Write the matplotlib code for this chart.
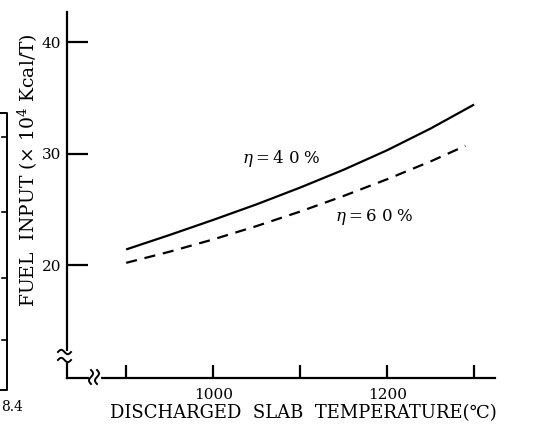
import numpy as np
import matplotlib
matplotlib.use("Agg")
import matplotlib.pyplot as plt
from matplotlib.lines import Line2D

# ---- data ----
temp_40 = [900, 950, 1000, 1050, 1100, 1150, 1200, 1250, 1300]
fuel_40 = [21.4, 22.7, 24.05, 25.45, 26.95, 28.55, 30.3, 32.25, 34.4]
temp_60 = [900, 950, 1000, 1050, 1100, 1150, 1200, 1250, 1290]
fuel_60 = [20.2, 21.2, 22.3, 23.5, 24.8, 26.2, 27.7, 29.3, 30.7]
x_ticks = [900, 1000, 1100, 1200, 1300]
x_ticklabels = ["", "1000", "", "1200", ""]
y_ticks = [20, 30, 40]
y_ticklabels = ["20", "30", "40"]
label_40 = r"$\eta = $4 0 %"
label_60 = r"$\eta = $6 0 %"
xlabel = "DISCHARGED  SLAB  TEMPERATURE(\u2103)"
ylabel = "FUEL  INPUT (\u00d7 10$^4$ Kcal\u2215T)"

W, H = 537, 428
plt.rcParams['font.family'] = ['DejaVu Serif', 'DejaVu Sans']
plt.rcParams['mathtext.fontset'] = 'dejavuserif'
fig = plt.figure(figsize=(W / 100, H / 100), dpi=100)

def fx(px):
    return px / W

def fy(py):
    return 1 - py / H

ax = fig.add_axes([fx(67), fy(378), fx(495) - fx(67), fy(12) - fy(378)])
ax.set_xlim(832, 1324)
ax.set_ylim(9.87, 42.7)

lw = 1.6
ax.plot(temp_40, fuel_40, color='black', lw=lw, solid_capstyle='butt')
ax.plot(temp_60, fuel_60, color='black', lw=lw, dashes=(5, 3.5))

ax.text(1033, 29.6, label_40, fontsize=12, ha='left', va='center')
ax.text(1140, 24.3, label_60, fontsize=12, ha='left', va='center')

for s in ['top', 'right']:
    ax.spines[s].set_visible(False)
for s in ['left', 'bottom']:
    ax.spines[s].set_linewidth(lw)

ax.set_xticks(x_ticks)
ax.set_xticklabels(x_ticklabels)
ax.set_yticks(y_ticks)
ax.set_yticklabels(y_ticklabels)
ax.tick_params(axis='y', direction='in', length=15, width=lw, pad=4, labelsize=11)
ax.tick_params(axis='x', direction='in', length=9.5, width=lw, pad=7, labelsize=11)

ax.set_xlabel(xlabel, fontsize=13)
ax.set_ylabel(ylabel, fontsize=13.5)
ax.yaxis.set_label_coords((40 - 67) / (495 - 67), (378 - 170) / (378 - 12))
ax.xaxis.set_label_coords((303 - 67) / (495 - 67), -(404 - 378) / (378 - 12))

# ---- axis break markers (pixel coords) ----
def pix_line(xs, ys, **kw):
    fig.add_artist(Line2D([fx(x) for x in xs], [fy(y) for y in ys],
                          transform=fig.transFigure, **kw))

pix_line([67, 67], [353, 361], color='white', lw=3)
t = np.linspace(0, 1, 40)
for y0 in (352, 360):
    xs = 58 + 13 * t
    ys = y0 - 2.2 * np.sin(2 * np.pi * t)
    pix_line(xs, ys, color='black', lw=1.4)
pix_line([91, 99], [378, 378], color='white', lw=3)
for x0 in (91, 97):
    ys = 370 + 14 * t
    xs = x0 + 2.0 * np.sin(2 * np.pi * t)
    pix_line(xs, ys, color='black', lw=1.4)

# ---- sliver of neighbouring chart at the left edge ----
pix_line([0, 7, 7, 0], [113, 113, 390, 390], color='black', lw=1.4)
for yt in (137, 212, 278, 340):
    pix_line([2, 7], [yt, yt], color='black', lw=1.2)
fig.text(fx(1), fy(407), "8.4", fontsize=10, ha='left', va='center')

fig.savefig("out.png", dpi=100)
